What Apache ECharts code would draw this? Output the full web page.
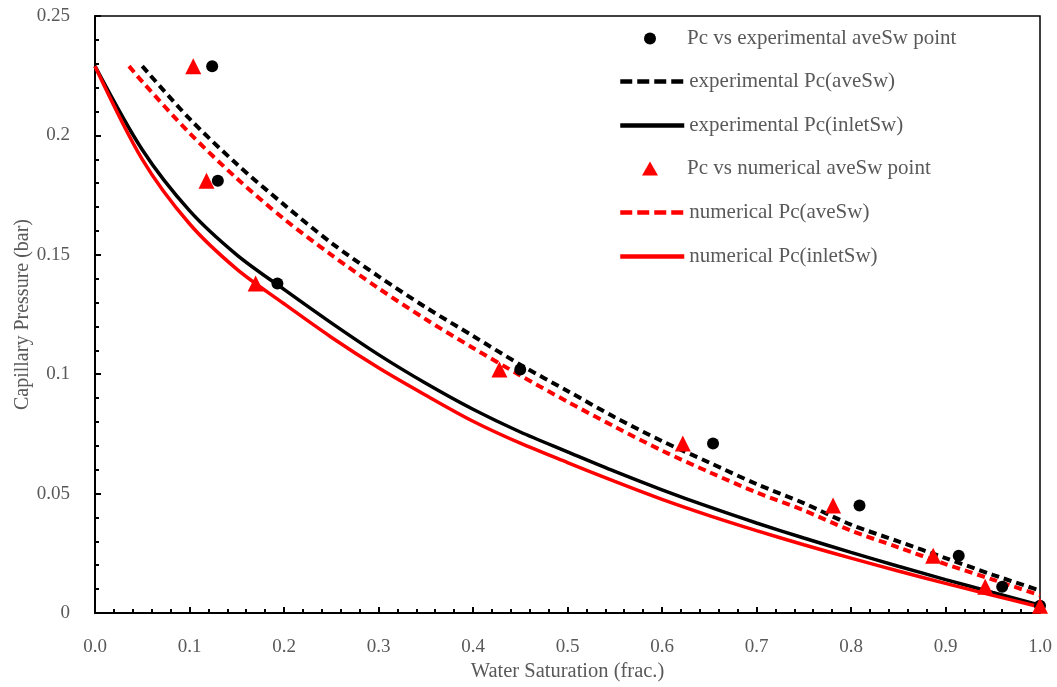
<!DOCTYPE html>
<html>
<head>
<meta charset="utf-8">
<script src="https://cdn.jsdelivr.net/npm/echarts@6/dist/echarts.min.js"></script>
<style>html,body{margin:0;padding:0;background:#fff}#c{width:1057px;height:687px}</style>
</head>
<body>
<div id="c"></div>
<script>
// ---- data ----
const expPointSw = [0.124, 0.130, 0.193, 0.450, 0.654, 0.809, 0.914, 0.960, 1.000];
const expPointPc = [0.229, 0.181, 0.138, 0.102, 0.071, 0.045, 0.024, 0.011, 0.003];
const numPointSw = [0.104, 0.118, 0.170, 0.428, 0.622, 0.781, 0.887, 0.942, 1.000];
const numPointPc = [0.229, 0.181, 0.138, 0.102, 0.071, 0.045, 0.024, 0.011, 0.003];

const solidSw = [0, 0.05, 0.10, 0.15, 0.20, 0.25, 0.30, 0.35, 0.40, 0.45, 0.50, 0.55, 0.60, 0.65, 0.70, 0.75, 0.80, 0.85, 0.90, 0.95, 1.00];
const expInletPc = [0.229, 0.194, 0.1685, 0.150, 0.1355, 0.1215, 0.1082, 0.0962, 0.0853, 0.0758, 0.0675, 0.0593, 0.0516, 0.0444, 0.0377, 0.0314, 0.0254, 0.0196, 0.0140, 0.0086, 0.0033];
const numInletPc = [0.229, 0.190, 0.163, 0.144, 0.1295, 0.1155, 0.1027, 0.0912, 0.0803, 0.0711, 0.063, 0.0551, 0.0476, 0.0408, 0.0345, 0.0286, 0.023, 0.0176, 0.0124, 0.0074, 0.0025];

const expAveSw = [0.05, 0.10, 0.15, 0.20, 0.25, 0.30, 0.35, 0.40, 0.45, 0.50, 0.55, 0.60, 0.65, 0.70, 0.75, 0.80, 0.85, 0.90, 0.95, 1.00];
const expAvePc = [0.229, 0.207, 0.188, 0.171, 0.155, 0.141, 0.128, 0.116, 0.104, 0.093, 0.082, 0.072, 0.063, 0.054, 0.046, 0.037, 0.030, 0.023, 0.016, 0.0094];

const numAveSw = [0.036, 0.05, 0.10, 0.15, 0.20, 0.25, 0.30, 0.35, 0.40, 0.45, 0.50, 0.55, 0.60, 0.65, 0.70, 0.75, 0.80, 0.85, 0.90, 0.95, 1.00];
const numAvePc = [0.229, 0.2225, 0.201, 0.182, 0.165, 0.150, 0.136, 0.123, 0.111, 0.0995, 0.0885, 0.078, 0.068, 0.059, 0.0505, 0.043, 0.0345, 0.0275, 0.0205, 0.014, 0.0074];

const xTickLabels = ['0.0','0.1','0.2','0.3','0.4','0.5','0.6','0.7','0.8','0.9','1.0'];
const yTickLabels = ['0','0.05','0.1','0.15','0.2','0.25'];

const seriesNames = [
  'Pc vs experimental aveSw point',
  'experimental Pc(aveSw)',
  'experimental Pc(inletSw)',
  'Pc vs numerical aveSw point',
  'numerical Pc(aveSw)',
  'numerical Pc(inletSw)'
];

// ---- build ----
const zip = (a, b) => a.map((v, i) => [v, b[i]]);
const FONT = '"Liberation Serif", "DejaVu Serif", serif';
const GREY = '#595959';
const RED = '#ff0000';

const legendTops = [40, 83, 127, 170, 214, 258];
const legendCfg = [
  { left: 644, w: 12, h: 12, pad: 26, kind: 'scatter' },
  { left: 618, w: 64, h: 14, pad: 0, kind: 'dash' },
  { left: 618, w: 64, h: 14, pad: 0, kind: 'solid' },
  { left: 642, w: 16, h: 14, pad: 24, kind: 'scatter' },
  { left: 618, w: 64, h: 14, pad: 0, kind: 'dash' },
  { left: 618, w: 64, h: 14, pad: 0, kind: 'solid' }
];
const legends = seriesNames.map((n, i) => {
  const c = legendCfg[i];
  const lg = {
    data: [n],
    left: c.left,
    top: legendTops[i] - 12,
    itemWidth: c.w,
    itemHeight: c.h,
    itemGap: 0,
    selectedMode: false,
    padding: 0,
    textStyle: { fontFamily: FONT, fontSize: 21, color: GREY, padding: [0, 0, 0, c.pad] }
  };
  if (c.kind === 'dash') {
    lg.itemStyle = { opacity: 0 };
    lg.lineStyle = { width: 4.5, type: [12, 5] };
  } else if (c.kind === 'solid') {
    lg.itemStyle = { opacity: 0 };
    lg.lineStyle = { width: 4.5 };
  }
  return lg;
});

const chart = echarts.init(document.getElementById('c'), null, { renderer: 'canvas' });
chart.setOption({
  backgroundColor: '#fff',
  animation: false,
  grid: { left: 95, right: 17, top: 16, bottom: 71, show: true, borderColor: '#000', borderWidth: 1.5, backgroundColor: 'transparent' },
  legend: legends,
  xAxis: {
    type: 'value', min: 0, max: 1, interval: 0.1,
    name: 'Water Saturation (frac.)', nameLocation: 'middle', nameGap: 48, nameMoveOverlap: false,
    nameTextStyle: { fontFamily: FONT, fontSize: 20.5, color: GREY },
    axisLine: { show: true, lineStyle: { color: '#000', width: 2 } },
    axisTick: { show: true, inside: true, length: 6, lineStyle: { color: '#000', width: 2 } },
    minorTick: { show: true, splitNumber: 5, length: 4, lineStyle: { color: '#000', width: 2 } },
    splitLine: { show: false },
    axisLabel: { fontFamily: FONT, fontSize: 19, color: GREY, margin: 25,
      formatter: (v) => xTickLabels[Math.round(v * 10)] }
  },
  yAxis: {
    type: 'value', min: 0, max: 0.25, interval: 0.05,
    name: 'Capillary Pressure (bar)', nameLocation: 'middle', nameGap: 62, nameMoveOverlap: false,
    nameTextStyle: { fontFamily: FONT, fontSize: 20, color: GREY },
    axisLine: { show: true, lineStyle: { color: '#000', width: 2 } },
    axisTick: { show: true, inside: true, length: 6, lineStyle: { color: '#000', width: 2 } },
    minorTick: { show: true, splitNumber: 5, length: 4, lineStyle: { color: '#000', width: 2 } },
    splitLine: { show: false },
    axisLabel: { fontFamily: FONT, fontSize: 19, color: GREY, margin: 25,
      formatter: (v) => yTickLabels[Math.round(v / 0.05)] }
  },
  series: [
    { name: seriesNames[0], type: 'scatter', data: zip(expPointSw, expPointPc), symbol: 'circle', symbolSize: 12, clip: false, z: 5,
      itemStyle: { color: '#000', opacity: 1 } },
    { name: seriesNames[1], type: 'line', data: zip(expAveSw, expAvePc), symbol: 'none', smooth: 0.3,
      lineStyle: { color: '#000', width: 4, type: [8, 5] }, itemStyle: { color: '#000' } },
    { name: seriesNames[2], type: 'line', data: zip(solidSw, expInletPc), symbol: 'none', smooth: 0.3,
      lineStyle: { color: '#000', width: 3.5 }, itemStyle: { color: '#000' } },
    { name: seriesNames[3], type: 'scatter', data: zip(numPointSw, numPointPc), symbol: 'triangle', symbolSize: 16, clip: false, z: 5,
      itemStyle: { color: RED, opacity: 1 } },
    { name: seriesNames[4], type: 'line', data: zip(numAveSw, numAvePc), symbol: 'none', smooth: 0.3,
      lineStyle: { color: RED, width: 4, type: [8, 5] }, itemStyle: { color: RED } },
    { name: seriesNames[5], type: 'line', data: zip(solidSw, numInletPc), symbol: 'none', smooth: 0.3,
      lineStyle: { color: RED, width: 3.5 }, itemStyle: { color: RED } }
  ]
});
</script>
</body>
</html>
